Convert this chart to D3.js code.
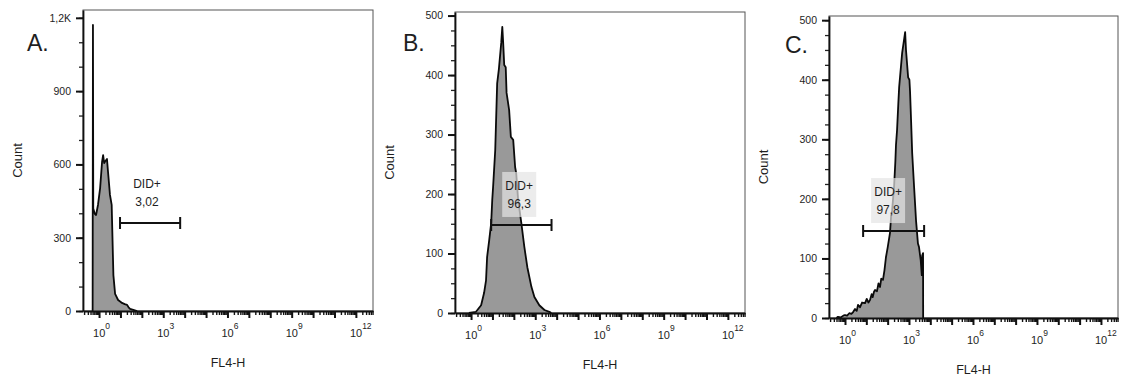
<!DOCTYPE html>
<html>
<head>
<meta charset="utf-8">
<script src="https://cdn.jsdelivr.net/npm/d3@7/dist/d3.min.js"></script>
<style>
  body { margin: 0; background: #fff; }
  svg { display: block; }
  text { font-family: "Liberation Sans", Arial, sans-serif; fill: #1e1e1e; }
</style>
</head>
<body>
<svg id="chart"></svg>
<script>
// ---- data ----
const panelNames = ['A.', 'B.', 'C.'];
const xLabel = 'FL4-H';
const yLabel = 'Count';
const gateName = 'DID+';
const gatePercent = ['3,02', '96,3', '97,8'];

// histograms: [log10(FL4-H), count]
const histA = [
  [-0.30, 0], [-0.285, 1171], [-0.27, 420], [-0.20, 398], [-0.14, 393], [-0.05, 434],
  [0.05, 503], [0.14, 610], [0.19, 638], [0.24, 605], [0.28, 612], [0.37, 622],
  [0.42, 569], [0.51, 475], [0.59, 434], [0.67, 147], [0.75, 70], [0.89, 45],
  [1.0, 38], [1.07, 33], [1.2, 28], [1.31, 25], [1.38, 15], [1.45, 9], [1.6, 5], [1.78, 0]
];
const histB = [
  [-0.10, 0], [0.23, 2], [0.47, 13], [0.61, 34], [0.70, 55], [0.75, 94], [0.85, 123],
  [0.94, 151], [0.99, 190], [1.03, 212], [1.13, 274], [1.22, 386], [1.30, 410],
  [1.41, 454], [1.46, 481], [1.50, 455], [1.55, 417], [1.62, 413], [1.66, 370],
  [1.78, 341], [1.86, 296], [1.97, 291], [2.06, 245], [2.11, 235], [2.20, 190],
  [2.35, 151], [2.49, 111], [2.63, 77], [2.82, 44], [2.96, 27], [3.19, 13],
  [3.43, 5], [3.66, 2], [3.75, 0]
];
const histC = [
  [-0.40, 0], [-0.33, 2], [-0.20, 1], [-0.08, 4], [0.0, 5], [0.10, 4], [0.20, 8],
  [0.30, 7], [0.38, 10], [0.47, 15], [0.55, 12], [0.61, 22], [0.70, 18], [0.80, 26],
  [0.94, 25], [1.02, 32], [1.10, 26], [1.17, 30], [1.25, 40], [1.30, 35], [1.36, 44],
  [1.41, 47], [1.50, 45], [1.57, 58], [1.64, 52], [1.70, 66], [1.78, 64], [1.85, 80],
  [1.92, 102], [2.0, 118], [2.11, 143], [2.16, 170], [2.21, 181], [2.30, 220],
  [2.36, 262], [2.39, 290], [2.44, 315], [2.50, 360], [2.54, 388], [2.68, 445],
  [2.78, 470], [2.82, 480], [2.86, 450], [2.96, 404], [3.02, 400], [3.05, 380],
  [3.10, 330], [3.15, 277], [3.24, 220], [3.33, 164], [3.42, 125], [3.47, 119],
  [3.55, 97], [3.60, 72], [3.62, 105], [3.66, 109], [3.665, 0]
];

// gates: ends in log10(FL4-H), height in counts
const gateFrom = [0.98, 0.94, 0.85];
const gateTo = [3.79, 3.76, 3.71];
const gateCount = [360, 148, 146];
const gateLabelAt = [2.24, 2.25, 2.02];

const xTickExp = [0, 3, 6, 9, 12];
const yMax = [1232, 506, 507];
const yTicksA = [0, 300, 600, 900, 1200];
const yTickLabelsA = ['0', '300', '600', '900', '1,2K'];
const yTicksBC = [0, 100, 200, 300, 400, 500];
const yTickLabelsBC = ['0', '100', '200', '300', '400', '500'];
const yMinorStep = [100, 25, 25];

// ---- layout ----
const W = 1121, H = 380;
const frames = [
  { l: 83, r: 373, t: 10, b: 311 },
  { l: 455, r: 745, t: 12, b: 313 },
  { l: 829, r: 1118, t: 16, b: 318 }
];
const letterPos = [[27, 51], [403, 51], [785, 53]];
const showBox = [false, true, true];
const hists = [histA, histB, histC];
const yTicks = [yTicksA, yTicksBC, yTicksBC];
const yTickLabels = [yTickLabelsA, yTickLabelsBC, yTickLabelsBC];

const svg = d3.select('#chart').attr('width', W).attr('height', H);

// x domain in decades
const xLo = -0.75, xHi = 12.8;
let xMajor = d3.range(0, 13).map(k => Math.pow(10, k));
let xMinor = [];
d3.range(-1, 13).forEach(k => {
  d3.range(2, 10).forEach(m => {
    let v = m * Math.pow(10, k);
    if (v > Math.pow(10, xLo) && v < Math.pow(10, xHi)) xMinor.push(v);
  });
});

frames.forEach(function(f, i) {
  let x = d3.scaleLog()
    .domain([Math.pow(10, xLo), Math.pow(10, xHi)])
    .range([f.l, f.r]);
  let y = d3.scaleLinear()
    .domain([0, yMax[i]])
    .range([f.b, f.t]);

  let g = svg.append('g');

  // clip
  g.append('clipPath').attr('id', 'clip' + i)
    .append('rect')
    .attr('x', f.l).attr('y', f.t)
    .attr('width', f.r - f.l).attr('height', f.b - f.t);

  // frame
  g.append('rect')
    .attr('x', f.l).attr('y', f.t)
    .attr('width', f.r - f.l).attr('height', f.b - f.t)
    .attr('fill', 'none')
    .attr('stroke', '#555')
    .attr('stroke-width', 1);

  // histogram
  let area = d3.area()
    .x(d => x(Math.pow(10, d[0])))
    .y0(y(0))
    .y1(d => y(d[1]));
  let line = d3.line()
    .x(d => x(Math.pow(10, d[0])))
    .y(d => y(d[1]));

  let hg = g.append('g').attr('clip-path', 'url(#clip' + i + ')');
  hg.append('path')
    .attr('d', area(hists[i]))
    .attr('fill', '#999');
  hg.append('path')
    .attr('d', line(hists[i]))
    .attr('fill', 'none')
    .attr('stroke', '#0a0a0a')
    .attr('stroke-width', 1.8)
    .attr('stroke-linejoin', 'round');

  // y axis (minor then major)
  let minorY = d3.range(0, yMax[i], yMinorStep[i]);
  g.append('g')
    .attr('transform', 'translate(' + f.l + ',0)')
    .call(d3.axisLeft(y).tickValues(minorY).tickSize(4).tickSizeOuter(0).tickFormat(''))
    .call(a => a.select('.domain').remove())
    .call(a => a.selectAll('line').attr('stroke', '#222').attr('stroke-width', 1.3));
  g.append('g')
    .attr('transform', 'translate(' + f.l + ',0)')
    .call(d3.axisLeft(y).tickValues(yTicks[i]).tickSize(7).tickSizeOuter(0).tickPadding(5)
      .tickFormat((d, j) => yTickLabels[i][j]))
    .call(a => a.select('.domain').attr('stroke', '#111').attr('stroke-width', 1.8))
    .call(a => a.selectAll('line').attr('stroke', '#111').attr('stroke-width', 2))
    .call(a => a.selectAll('text').attr('font-size', 10.5).attr('fill', '#1a1a1a')
      .style('font-family', '"Liberation Sans", Arial, sans-serif'));

  // x axis
  g.append('g')
    .attr('transform', 'translate(0,' + f.b + ')')
    .call(d3.axisBottom(x).tickValues(xMinor).tickSize(4).tickSizeOuter(0).tickFormat(''))
    .call(a => a.select('.domain').remove())
    .call(a => a.selectAll('line').attr('stroke', '#111').attr('stroke-width', 1.4));
  g.append('g')
    .attr('transform', 'translate(0,' + f.b + ')')
    .call(d3.axisBottom(x).tickValues(xMajor).tickSize(7).tickSizeOuter(0).tickFormat(''))
    .call(a => a.select('.domain').attr('stroke', '#111').attr('stroke-width', 2.2))
    .call(a => a.selectAll('line').attr('stroke', '#111').attr('stroke-width', 2));

  // x tick labels 10^n
  xTickExp.forEach(function(e) {
    let t = g.append('text')
      .attr('x', x(Math.pow(10, e)) - 6)
      .attr('y', f.b + 26)
      .attr('font-size', 11);
    t.append('tspan').text('10');
    t.append('tspan').attr('dy', -8).attr('font-size', 8.5).text(e);
  });

  // axis titles
  g.append('text')
    .attr('x', (f.l + f.r) / 2)
    .attr('y', f.b + 56)
    .attr('text-anchor', 'middle')
    .attr('font-size', 12.5)
    .text(xLabel);
  g.append('text')
    .attr('transform', 'translate(' + (f.l - 61) + ',' + ((f.t + f.b) / 2) + ') rotate(-90)')
    .attr('text-anchor', 'middle')
    .attr('font-size', 13)
    .text(yLabel);

  // panel letter
  g.append('text')
    .attr('x', letterPos[i][0])
    .attr('y', letterPos[i][1])
    .attr('font-size', 23)
    .attr('fill', '#000')
    .text(panelNames[i]);

  // gate
  let gy = y(gateCount[i]);
  let gx0 = x(Math.pow(10, gateFrom[i]));
  let gx1 = x(Math.pow(10, gateTo[i]));
  let cx = x(Math.pow(10, gateLabelAt[i]));

  if (showBox[i]) {
    g.append('rect')
      .attr('x', cx - 17).attr('y', gy - 53)
      .attr('width', 34).attr('height', 45)
      .attr('fill', '#e4e4e4')
      .attr('opacity', 0.7);
  }
  g.append('path')
    .attr('d', 'M' + gx0 + ',' + gy + 'H' + gx1 +
      'M' + gx0 + ',' + (gy - 6) + 'V' + (gy + 6) +
      'M' + gx1 + ',' + (gy - 6) + 'V' + (gy + 6))
    .attr('stroke', '#111')
    .attr('stroke-width', 2)
    .attr('fill', 'none');
  g.append('text')
    .attr('x', cx).attr('y', gy - 35)
    .attr('text-anchor', 'middle')
    .attr('font-size', 12)
    .text(gateName);
  g.append('text')
    .attr('x', cx).attr('y', gy - 17)
    .attr('text-anchor', 'middle')
    .attr('font-size', 12)
    .text(gatePercent[i]);
});
</script>
</body>
</html>
